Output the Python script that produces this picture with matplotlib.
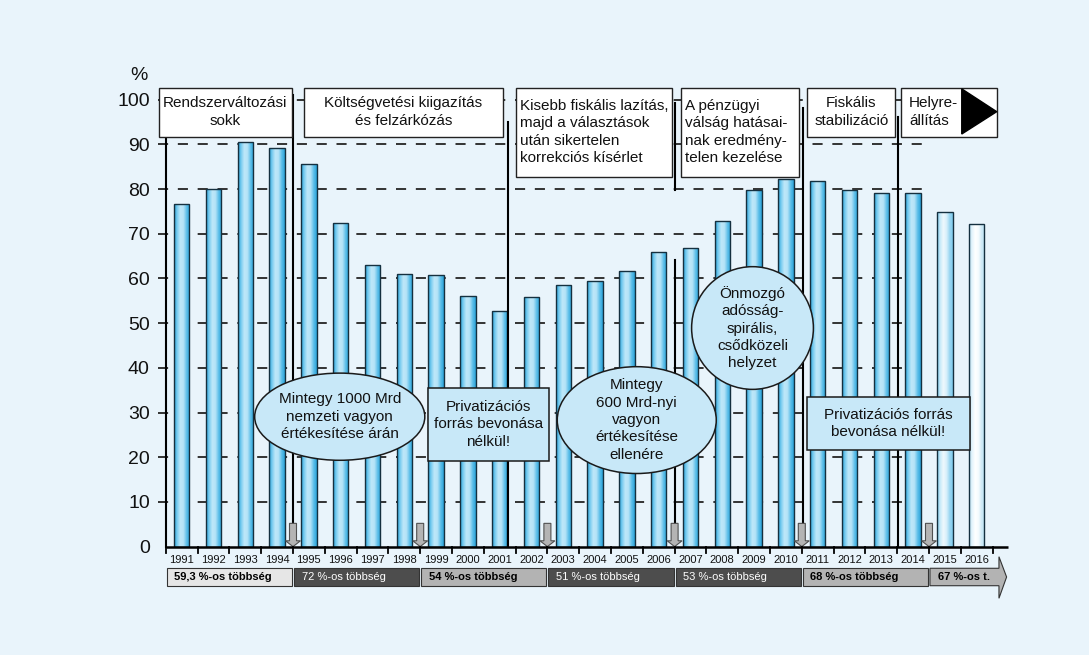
import numpy as np
import matplotlib
matplotlib.use('Agg')
import matplotlib.pyplot as plt
from matplotlib.patches import Rectangle, Ellipse, Polygon
from matplotlib.colors import LinearSegmentedColormap

plt.rcParams['font.family'] = ['Liberation Sans', 'DejaVu Sans']

# államadósság a GDP %-ában
years = list(range(1991, 2017))
debt = [76.7, 79.9, 90.5, 89.1, 85.7, 72.3, 62.9, 60.9, 60.7, 56.1, 52.7, 55.9, 58.5,
        59.5, 61.6, 65.8, 66.7, 72.8, 79.8, 82.2, 81.9, 79.8, 79.0, 79.0, 74.8, 72.2]
forecast_years = [2015, 2016]

yticks = list(range(0, 101, 10))

# kormányzati ciklusok (választási évek) és parlamenti többség
cycle_start = [1990, 1994, 1998, 2002, 2006, 2010, 2014]
cycle_end = [1994, 1998, 2002, 2006, 2010, 2014, 2016]
majority = ['59,3 %-os többség', '72 %-os többség', '54 %-os többség', '51 %-os többség',
            '53 %-os többség', '68 %-os többség', '67 %-os t.']
band_colors = ['#e6e6e6', '#4d4d4d', '#b3b3b3', '#4d4d4d', '#4d4d4d', '#b3b3b3', '#b3b3b3']
election_marks = [1994.5, 1998.5, 2002.5, 2006.5, 2010.5, 2014.5]

BG = '#e9f4fb'
fig = plt.figure(figsize=(10.89, 6.55), dpi=100, facecolor=BG)
ax = fig.add_axes([165.8 / 1089, 1 - 546.6 / 655, (1008.5 - 165.8) / 1089, 447 / 655])
ax.set_facecolor(BG)

# szaggatott rácsvonalak
for v in yticks[1:]:
    ax.plot([1990.26, 2014.53], [v, v], color='#333333', lw=1.4,
            ls=(0, (5.2, 5.0)), zorder=1, clip_on=False)

# oszlopok színátmenettel
normal = LinearSegmentedColormap.from_list('n', ['#28a2da', '#7ccdf0', '#bfe8f9', '#b3e2f7', '#5ebfe9', '#2aa3da'])
light1 = LinearSegmentedColormap.from_list('l1', ['#7fcbee', '#c9ebf9', '#eef8fd', '#d8f0fb', '#9ad6f1', '#80ccee'])
light2 = LinearSegmentedColormap.from_list('l2', ['#b9e1f4', '#e6f5fc', '#ffffff', '#f4fbfe', '#cfeaf7', '#bde3f5'])
grad = np.linspace(0, 1, 64).reshape(1, -1)

bars = ax.bar(years, debt, width=0.48, facecolor='none', edgecolor='#15303f',
              linewidth=1.0, zorder=3)
for b, yr in zip(bars, years):
    cmap = normal
    if yr == forecast_years[0]:
        cmap = light1
    elif yr == forecast_years[1]:
        cmap = light2
    x0 = b.get_x()
    im = ax.imshow(grad, extent=[x0, x0 + b.get_width(), 0, b.get_height()],
                   aspect='auto', cmap=cmap, zorder=2.9)
    im.set_clip_path(b)

# függőleges elválasztó vonalak
vlines = [(1990.5, 0, 91.6), (1994.5, 5.2, 101.0), (2001.27, 0, 95.1),
          (2006.5, 64.1, 99.2), (2006.5, 5.2, 79.8), (2010.54, 5.2, 98.1), (2013.53, 0, 96.1)]
vlines[3] = (2006.5, 79.8, 99.2)
vlines[4] = (2006.5, 5.2, 64.1)
for x, y0, y1 in vlines:
    ax.plot([x, x], [y0, y1], color='black', lw=1.5, zorder=4, clip_on=False)

# választási nyilak
for x in election_marks:
    pts = [(x - 0.11, 5.2), (x + 0.11, 5.2), (x + 0.11, 1.3), (x + 0.235, 1.3),
           (x, 0), (x - 0.235, 1.3), (x - 0.11, 1.3)]
    ax.add_patch(Polygon(pts, closed=True, facecolor='#b4b4b4', edgecolor='#505050',
                         lw=0.8, zorder=5, clip_on=False))

# x tengely
ax.plot([1990.5, 2016.98], [0, 0], color='black', lw=1.8, zorder=6, clip_on=False,
        solid_capstyle='butt')
for i in range(len(years) + 1):
    xb = years[0] - 0.5 + i
    ax.plot([xb, xb], [0, -1.45], color='black', lw=1.3, zorder=6, clip_on=False)
for yr in years:
    ax.text(yr, -3.0, str(yr), ha='center', va='center', fontsize=8, color='#111111')

# többség sávok
yt, yb = -4.85, -8.75
for s, e, lab, c in zip(cycle_start, cycle_end, majority, band_colors):
    x0 = s + 0.5 + 0.03
    dark = c == '#4d4d4d'
    if e == cycle_end[-1]:
        pts = [(x0, yt), (2016.7, yt), (2016.7, -2.26), (2016.94, -6.8),
               (2016.7, -11.57), (2016.7, yb), (x0, yb)]
        ax.add_patch(Polygon(pts, closed=True, facecolor=c, edgecolor='#333333',
                             lw=0.8, clip_on=False, zorder=5))
    else:
        x1 = e + 0.5 - 0.03
        ax.add_patch(Rectangle((x0, yb), x1 - x0, yt - yb, facecolor=c, edgecolor='#333333',
                               lw=0.8, clip_on=False, zorder=5))
    ax.text(x0 + 0.24, (yt + yb) / 2, lab, ha='left', va='center', fontsize=8,
            color='white' if dark else 'black',
            fontweight='normal' if dark else 'bold', zorder=6)

# felső dobozok
top_boxes = [
    (1990.29, 1994.46, 91.7, 'Rendszerváltozási\nsokk', 'center'),
    (1994.85, 2001.10, 91.7, 'Költségvetési kiigazítás\nés felzárkózás', 'center'),
    (2001.51, 2006.43, 82.75, 'Kisebb fiskális lazítás,\nmajd a választások\nután sikertelen\nkorrekciós kísérlet', 'left'),
    (2006.69, 2010.42, 82.75, 'A pénzügyi\nválság hatásai-\nnak eredmény-\ntelen kezelése', 'left'),
    (2010.67, 2013.44, 91.7, 'Fiskális\nstabilizáció', 'center'),
    (2013.63, 2016.63, 91.7, 'Helyre-\nállítás', 'left'),
]
ytop = 102.7
for x0, x1, y0, txt, al in top_boxes:
    ax.add_patch(Rectangle((x0, y0), x1 - x0, ytop - y0, facecolor='white',
                           edgecolor='#222222', lw=1.0, zorder=7, clip_on=False))
    if al == 'center':
        tx = (x0 + x1) / 2
    else:
        tx = x0 + 0.2 if x1 - x0 < 3.1 else x0 + 0.13
    if txt.startswith('Helyre'):
        tx = x0 + 0.24
    ax.text(tx, (y0 + ytop) / 2, txt, ha=al, va='center', multialignment=al,
            fontsize=11, linespacing=1.3, color='#111111', zorder=8, clip_on=False)
ax.add_patch(Polygon([(2015.53, 102.4), (2015.53, 92.3), (2016.63, 97.3)], closed=True,
                     facecolor='black', edgecolor='black', zorder=8, clip_on=False))

# buborékok és megjegyzések
BUB = '#c8e8f8'
notes_ell = [
    (1995.97, 29.06, 5.35, 19.5, 'Mintegy 1000 Mrd\nnemzeti vagyon\nértékesítése árán'),
    (2005.31, 28.3, 5.0, 23.9, 'Mintegy\n600 Mrd-nyi\nvagyon\nértékesítése\nellenére'),
    (2008.95, 48.9, 3.83, 27.45, 'Önmozgó\nadósság-\nspirális,\ncsődközeli\nhelyzet'),
]
for cx, cy, w, h, txt in notes_ell:
    ax.add_patch(Ellipse((cx, cy), w, h, facecolor=BUB, edgecolor='#1a1a1a', lw=1.1,
                         zorder=7, clip_on=False))
    ax.text(cx, cy, txt, ha='center', va='center', fontsize=11, linespacing=1.3,
            color='#111111', zorder=8)

notes_box = [
    (1998.75, 2002.55, 19.2, 35.55, 'Privatizációs\nforrás bevonása\nnélkül!'),
    (2010.67, 2015.79, 21.6, 33.4, 'Privatizációs forrás\nbevonása nélkül!'),
]
for x0, x1, y0, y1, txt in notes_box:
    ax.add_patch(Rectangle((x0, y0), x1 - x0, y1 - y0, facecolor=BUB, edgecolor='#1a1a1a',
                           lw=1.1, zorder=7, clip_on=False))
    ax.text((x0 + x1) / 2, (y0 + y1) / 2, txt, ha='center', va='center', fontsize=11,
            linespacing=1.3, color='#111111', zorder=8)

# tengelyek
ax.set_xlim(1990.5, 2017.0)
ax.set_ylim(0, 100)
ax.set_xticks([])
ax.set_yticks(yticks)
ax.set_yticklabels([str(v) for v in yticks])
ax.tick_params(axis='y', length=0, pad=11.5, labelsize=14, labelcolor='#111111')
for sp in ax.spines.values():
    sp.set_visible(False)
ax.text(1989.67, 105.5, '%', ha='center', va='center', fontsize=14, color='#111111')

plt.savefig('out.png', dpi=100, facecolor=BG)
